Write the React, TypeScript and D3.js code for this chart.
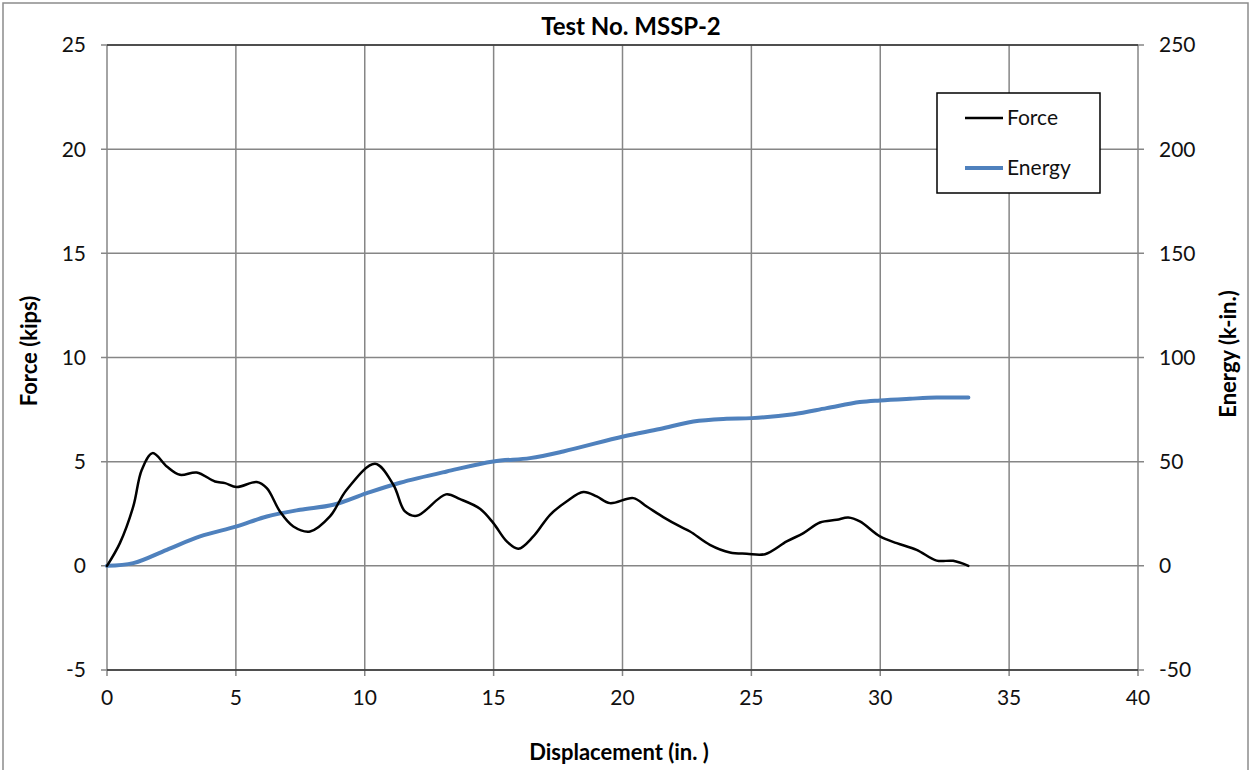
import React from "react";
import * as d3 from "d3";

const forceX = [0, 0.5, 1.02, 1.35, 1.77, 2.32, 2.83, 3.48, 4.19, 4.58, 5.03, 5.81, 6.2, 6.71, 7.23, 7.88, 8.65, 9.3, 10.4, 11.11, 11.56, 12.02, 13.15, 13.7, 14.47, 14.99, 15.51, 15.96, 16.54, 17.19, 17.83, 18.48, 19.0, 19.51, 20.42, 20.94, 21.58, 22.23, 22.62, 23.39, 24.17, 24.82, 25.53, 26.37, 27.02, 27.66, 28.31, 28.76, 29.21, 29.99, 30.64, 31.41, 32.19, 32.83, 33.42];
const forceY = [0, 1.09, 2.85, 4.61, 5.41, 4.77, 4.37, 4.48, 4.05, 3.97, 3.78, 4.02, 3.73, 2.61, 1.89, 1.65, 2.37, 3.65, 4.9, 3.89, 2.61, 2.4, 3.43, 3.2, 2.74, 2.05, 1.17, 0.82, 1.41, 2.45, 3.09, 3.54, 3.33, 3.01, 3.25, 2.85, 2.34, 1.89, 1.65, 1.01, 0.64, 0.58, 0.56, 1.17, 1.57, 2.08, 2.21, 2.32, 2.13, 1.41, 1.09, 0.77, 0.25, 0.24, 0];

const energyX = [0, 1.02, 2.32, 3.61, 5.03, 6.2, 7.49, 8.78, 10.08, 11.37, 13.18, 14.99, 16.41, 17.7, 20.03, 21.45, 22.75, 24.04, 25.01, 26.63, 27.92, 29.21, 29.99, 31.15, 32.19, 33.42];
const energyY = [0, 1.3, 7.7, 14.1, 18.9, 23.7, 26.9, 29.3, 34.9, 39.9, 45.3, 50.1, 51.7, 54.9, 62.1, 65.7, 69.3, 70.6, 70.9, 72.8, 75.7, 78.6, 79.4, 80.2, 80.8, 80.8];

const xTicks = [0, 5, 10, 15, 20, 25, 30, 35, 40];
const leftTicks = [-5, 0, 5, 10, 15, 20, 25];
const rightTicks = [-50, 0, 50, 100, 150, 200, 250];

const title = "Test No. MSSP-2";
const xTitle = "Displacement (in. )";
const yLeftTitle = "Force (kips)";
const yRightTitle = "Energy (k-in.)";
const seriesNames = ["Force", "Energy"];

const FONT = "Lato, 'Open Sans', sans-serif";

export default function App() {
  const L = 107, R = 1138, T = 45, B = 670;
  const x = d3.scaleLinear().domain([0, 40]).range([L, R]);
  const yL = d3.scaleLinear().domain([-5, 25]).range([B, T]);
  const yR = d3.scaleLinear().domain([-50, 250]).range([B, T]);

  const forcePts: [number, number][] = forceX.map((v, i) => [v, forceY[i]]);
  const energyPts: [number, number][] = energyX.map((v, i) => [v, energyY[i]]);

  const forceLine = d3
    .line<[number, number]>()
    .x((d) => x(d[0]))
    .y((d) => yL(d[1]))
    .curve(d3.curveCatmullRom.alpha(0.5));
  const energyLine = d3
    .line<[number, number]>()
    .x((d) => x(d[0]))
    .y((d) => yR(d[1]))
    .curve(d3.curveCatmullRom.alpha(0.5));

  const grid = "#868686";
  const tickFs = 21;

  return (
    <svg
      width={1250}
      height={770}
      style={{ position: "absolute", left: 0, top: 0, background: "#fff" }}
      fontFamily={FONT}
    >
      <rect x={3} y={3} width={1245} height={790} fill="#fff" stroke="#8c8c8c" strokeWidth={1.5} />
      {xTicks.map((t) => (
        <line key={"gx" + t} x1={x(t)} x2={x(t)} y1={T} y2={B + 6} stroke={grid} strokeWidth={1.5} />
      ))}
      {leftTicks.map((t) => (
        <line key={"gy" + t} x1={L - 6} x2={R + 6} y1={yL(t)} y2={yL(t)} stroke={grid} strokeWidth={1.5} />
      ))}
      <line x1={L} x2={R} y1={T} y2={T} stroke="#333" strokeWidth={1.5} />
      <line x1={L} x2={R} y1={B} y2={B} stroke="#333" strokeWidth={1.5} />
      {leftTicks.map((t) => (
        <text key={"ly" + t} x={86} y={yL(t)} dy="0.35em" textAnchor="end" fontSize={tickFs} fill="#111">
          {t}
        </text>
      ))}
      {rightTicks.map((t) => (
        <text key={"ry" + t} x={1159} y={yR(t)} dy="0.35em" textAnchor="start" fontSize={tickFs} fill="#111">
          {t}
        </text>
      ))}
      {xTicks.map((t) => (
        <text key={"lx" + t} x={x(t)} y={698} dy="0.35em" textAnchor="middle" fontSize={tickFs} fill="#111">
          {t}
        </text>
      ))}
      <path d={energyLine(energyPts) || ""} fill="none" stroke="#4F81BD" strokeWidth={4} strokeLinecap="round" />
      <path d={forceLine(forcePts) || ""} fill="none" stroke="#000" strokeWidth={2.5} strokeLinecap="round" />
      <text x={631} y={35} textAnchor="middle" fontSize={24} fontWeight="bold" fill="#000">
        {title}
      </text>
      <text x={619} y={752} dy="0.35em" textAnchor="middle" fontSize={22} fontWeight="bold" fill="#000">
        {xTitle}
      </text>
      <text
        transform={`translate(29, 351) rotate(-90)`}
        textAnchor="middle"
        dy="0.35em"
        fontSize={22}
        fontWeight="bold"
        fill="#000"
      >
        {yLeftTitle}
      </text>
      <text
        transform={`translate(1228, 354) rotate(-90)`}
        textAnchor="middle"
        dy="0.35em"
        fontSize={22}
        fontWeight="bold"
        fill="#000"
      >
        {yRightTitle}
      </text>
      <rect x={937} y={93} width={163} height={100} fill="#fff" stroke="#000" strokeWidth={1.5} />
      <line x1={965} x2={1003} y1={118} y2={118} stroke="#000" strokeWidth={2.5} />
      <text x={1007} y={118} dy="0.35em" fontSize={tickFs} fill="#111">
        {seriesNames[0]}
      </text>
      <line x1={965} x2={1003} y1={168} y2={168} stroke="#4F81BD" strokeWidth={4} />
      <text x={1007} y={168} dy="0.35em" fontSize={tickFs} fill="#111">
        {seriesNames[1]}
      </text>
    </svg>
  );
}
